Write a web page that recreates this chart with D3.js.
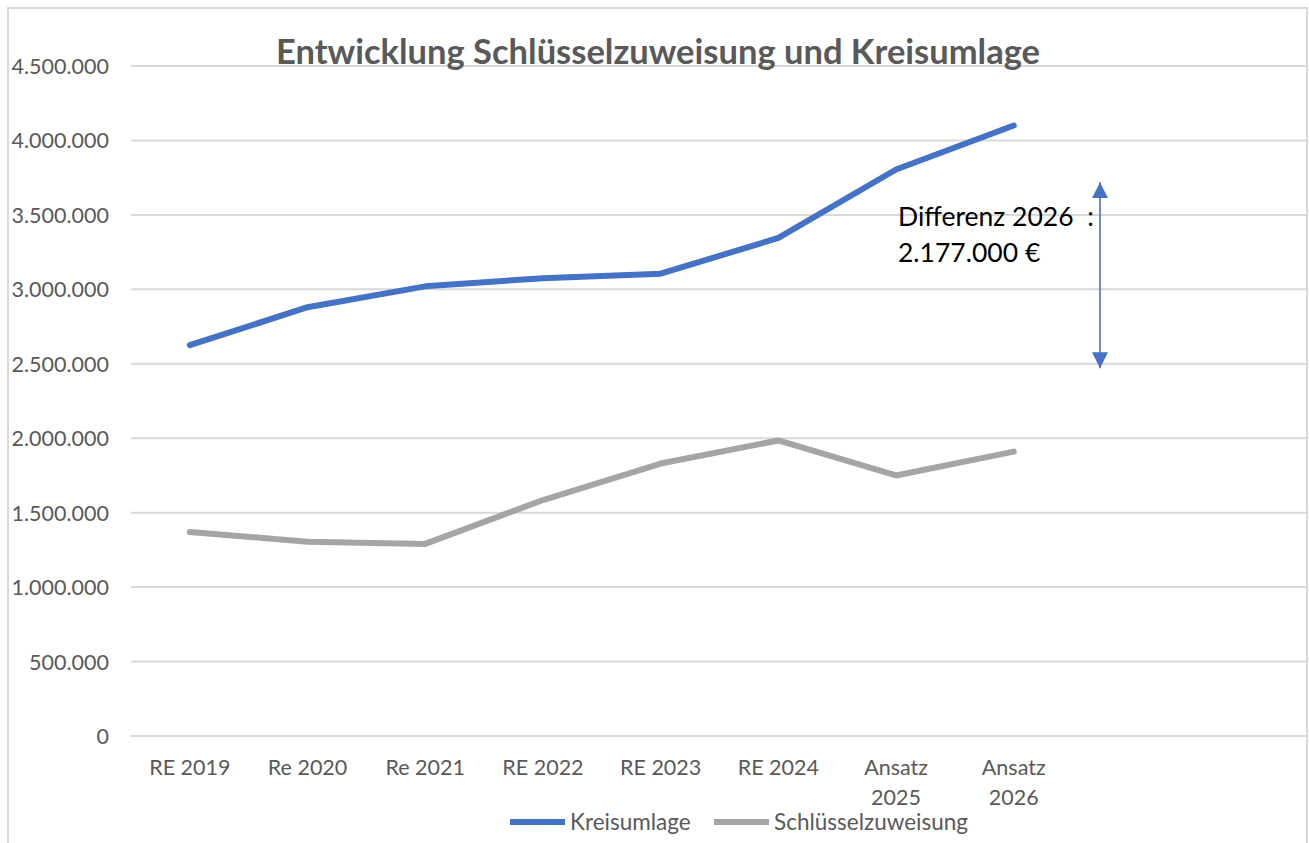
<!DOCTYPE html>
<html>
<head>
<meta charset="utf-8">
<script src="https://cdn.jsdelivr.net/npm/d3@7"></script>
<style>
  body { margin: 0; background: #fff; }
  text { font-family: Lato, "Noto Sans", sans-serif; }
</style>
</head>
<body>
<script>
let width = 1309
let height = 843

// data
let categories = ['RE 2019', 'Re 2020', 'Re 2021', 'RE 2022', 'RE 2023', 'RE 2024', 'Ansatz 2025', 'Ansatz 2026']
let kreisumlage = [2625000, 2880000, 3020000, 3075000, 3105000, 3345000, 3805000, 4100000]
let schluesselzuweisung = [1370000, 1305000, 1290000, 1585000, 1830000, 1985000, 1750000, 1910000]
let yTicks = [0, 500000, 1000000, 1500000, 2000000, 2500000, 3000000, 3500000, 4000000, 4500000]
let slotCount = 10
let annotationLines = ['Differenz 2026  :', '2.177.000 €']
let arrowRange = [3720000, 2470000]

let series = [
  { name: 'Kreisumlage', values: kreisumlage, color: '#4472C4' },
  { name: 'Schlüsselzuweisung', values: schluesselzuweisung, color: '#A5A5A5' }
]

let de = d3.formatLocale({ decimal: ',', thousands: '.', grouping: [3], currency: ['', ' €'] })
let fmt = de.format(',.0f')

let svg = d3.select('body').append('svg')
  .attr('width', width)
  .attr('height', height)

// chart frame
svg.append('rect')
  .attr('x', 8).attr('y', 8)
  .attr('width', 1299).attr('height', 860)
  .attr('fill', '#fff')
  .attr('stroke', '#d9d9d9')
  .attr('stroke-width', 2)

let x = d3.scaleBand()
  .domain(d3.range(slotCount))
  .range([131, 1308])

let y = d3.scaleLinear()
  .domain([0, 4500000])
  .range([736, 66])

// gridlines
svg.append('g')
  .selectAll('line')
  .data(yTicks)
  .join('line')
  .attr('x1', 131)
  .attr('x2', 1306)
  .attr('y1', d => y(d))
  .attr('y2', d => y(d))
  .attr('stroke', '#d9d9d9')
  .attr('stroke-width', 2)

// y axis labels
let yAxis = svg.append('g')
  .attr('transform', 'translate(109,0)')
  .call(d3.axisLeft(y).tickValues(yTicks).tickFormat(fmt).tickSize(0).tickPadding(0))
yAxis.select('.domain').remove()
yAxis.selectAll('text')
  .attr('fill', '#595959')
  .style('font-size', '21.5px')
  .attr('dy', '0.35em')

// x axis labels
let xAxis = svg.append('g')
  .attr('transform', 'translate(0,767)')
xAxis.selectAll('text')
  .data(categories)
  .join('text')
  .attr('x', (d, i) => x(i) + x.bandwidth() / 2)
  .attr('y', 0)
  .attr('text-anchor', 'middle')
  .attr('fill', '#595959')
  .style('font-size', '21.5px')
  .each(function(d) {
    let t = d3.select(this)
    t.text(d)
    if (this.getComputedTextLength() > x.bandwidth() * 0.85) {
      t.text(null)
      d.split(' ').forEach((w, k) => {
        t.append('tspan')
          .attr('x', t.attr('x'))
          .attr('dy', k === 0 ? '0.35em' : '1.4em')
          .text(w)
      })
    } else {
      t.attr('dy', '0.35em')
    }
  })

// lines
let line = d3.line()
  .x((d, i) => x(i) + x.bandwidth() / 2)
  .y(d => y(d))

svg.append('g')
  .selectAll('path')
  .data(series)
  .join('path')
  .attr('d', d => line(d.values))
  .attr('fill', 'none')
  .attr('stroke', d => d.color)
  .attr('stroke-width', 6)
  .attr('stroke-linecap', 'round')
  .attr('stroke-linejoin', 'round')

// title
svg.append('text')
  .attr('x', 658)
  .attr('y', 64)
  .attr('text-anchor', 'middle')
  .attr('fill', '#595959')
  .style('font-size', '34.5px')
  .style('font-weight', 'bold')
  .text('Entwicklung Schlüsselzuweisung und Kreisumlage')

// annotation text
svg.append('g')
  .selectAll('text')
  .data(annotationLines)
  .join('text')
  .attr('x', 898)
  .attr('y', (d, i) => 226 + i * 36)
  .attr('fill', '#000')
  .style('font-size', '26.5px')
  .style('white-space', 'pre')
  .text(d => d)

// double-headed arrow
let defs = svg.append('defs')
defs.append('marker')
  .attr('id', 'tri')
  .attr('viewBox', '0 0 10 10')
  .attr('refX', 10).attr('refY', 5)
  .attr('markerWidth', 10).attr('markerHeight', 10)
  .attr('markerUnits', 'strokeWidth')
  .attr('orient', 'auto-start-reverse')
  .append('path')
  .attr('d', 'M0,0 L10,5 L0,10 Z')
  .attr('fill', '#4472C4')

svg.append('line')
  .attr('x1', 1100).attr('x2', 1100)
  .attr('y1', y(arrowRange[0]))
  .attr('y2', y(arrowRange[1]))
  .attr('stroke', '#4472C4')
  .attr('stroke-width', 1.6)
  .attr('marker-start', 'url(#tri)')
  .attr('marker-end', 'url(#tri)')

// legend
let legendX = [510, 714]
let legend = svg.append('g')
  .selectAll('g')
  .data(series)
  .join('g')
  .attr('transform', (d, i) => 'translate(' + legendX[i] + ',822)')
legend.append('line')
  .attr('x1', 0).attr('x2', 55)
  .attr('stroke', d => d.color)
  .attr('stroke-width', 6)
legend.append('text')
  .attr('x', 60)
  .attr('dy', '0.35em')
  .attr('fill', '#595959')
  .style('font-size', '22.5px')
  .text(d => d.name)
</script>
</body>
</html>
